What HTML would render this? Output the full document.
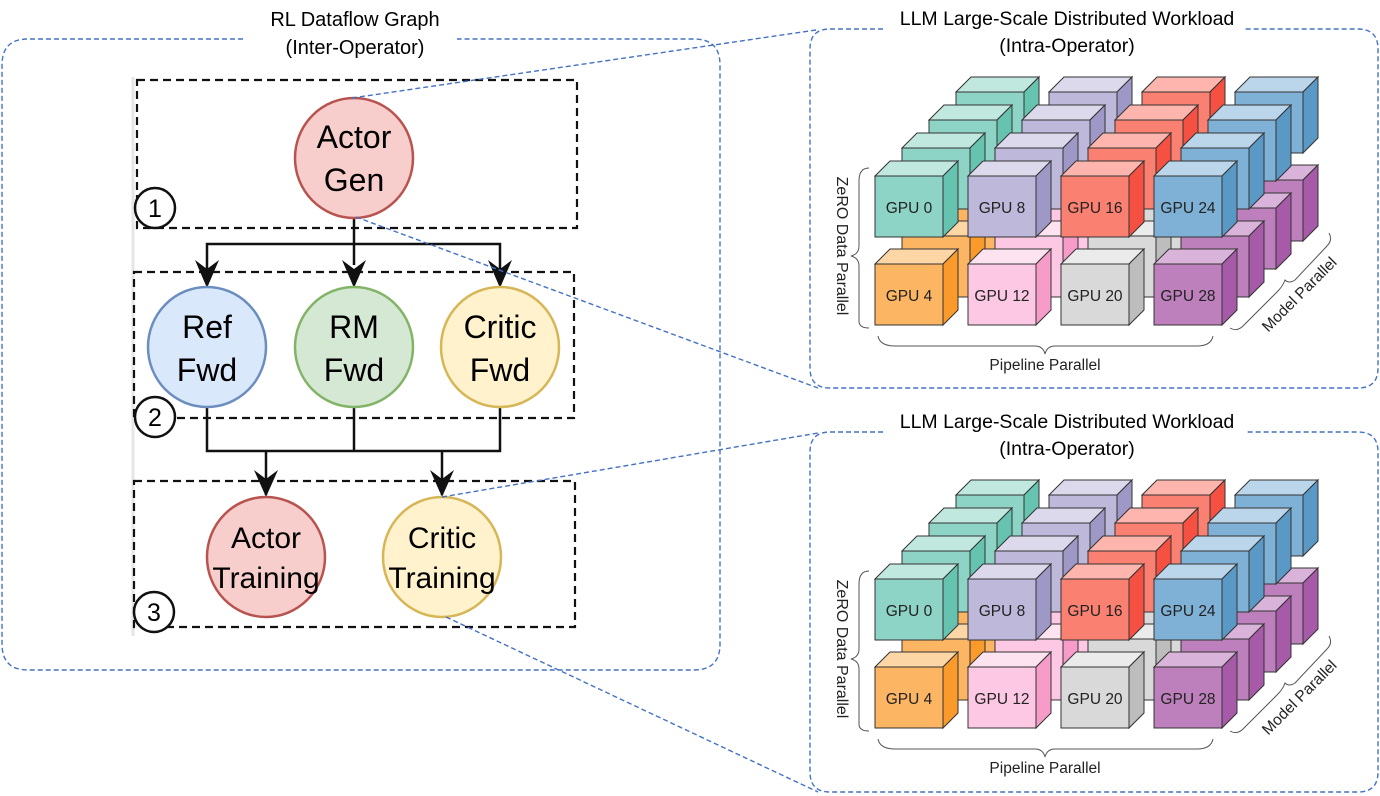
<!DOCTYPE html>
<html><head><meta charset="utf-8"><style>
html,body{margin:0;padding:0;background:#fff;}
svg{display:block;}
.t{font-family:"Liberation Sans",sans-serif;}
.g{font-family:"Liberation Sans",sans-serif;font-size:15.5px;fill:#222;}
</style></head><body>
<svg width="1380" height="796" viewBox="0 0 1380 796" xmlns="http://www.w3.org/2000/svg">
<defs>
<g id="c0"><rect x="0" y="0" width="68" height="61" fill="#8ED4C6" stroke="#333"/><polygon points="0,0 15,-15 83,-15 68,0" fill="#C0E8DF" stroke="#333"/><polygon points="68,0 83,-15 83,46 68,61" fill="#65C3B0" stroke="#333"/></g>
<g id="c1"><rect x="0" y="0" width="68" height="61" fill="#BEB8DA" stroke="#333"/><polygon points="0,0 15,-15 83,-15 68,0" fill="#DCD9ED" stroke="#333"/><polygon points="68,0 83,-15 83,46 68,61" fill="#9E98C6" stroke="#333"/></g>
<g id="c2"><rect x="0" y="0" width="68" height="61" fill="#FA8072" stroke="#333"/><polygon points="0,0 15,-15 83,-15 68,0" fill="#FDB5AD" stroke="#333"/><polygon points="68,0 83,-15 83,46 68,61" fill="#F65042" stroke="#333"/></g>
<g id="c3"><rect x="0" y="0" width="68" height="61" fill="#7FB0D5" stroke="#333"/><polygon points="0,0 15,-15 83,-15 68,0" fill="#BBD5EA" stroke="#333"/><polygon points="68,0 83,-15 83,46 68,61" fill="#5A98C6" stroke="#333"/></g>
<g id="d0"><rect x="0" y="0" width="68" height="61" fill="#FBB563" stroke="#333"/><polygon points="0,0 15,-15 83,-15 68,0" fill="#FDD6A6" stroke="#333"/><polygon points="68,0 83,-15 83,46 68,61" fill="#F99A2B" stroke="#333"/></g>
<g id="d1"><rect x="0" y="0" width="68" height="61" fill="#FCC8E3" stroke="#333"/><polygon points="0,0 15,-15 83,-15 68,0" fill="#FDE3F0" stroke="#333"/><polygon points="68,0 83,-15 83,46 68,61" fill="#F79CC8" stroke="#333"/></g>
<g id="d2"><rect x="0" y="0" width="68" height="61" fill="#D9D9D9" stroke="#333"/><polygon points="0,0 15,-15 83,-15 68,0" fill="#EBEBEB" stroke="#333"/><polygon points="68,0 83,-15 83,46 68,61" fill="#BDBDBD" stroke="#333"/></g>
<g id="d3"><rect x="0" y="0" width="68" height="61" fill="#BD80BD" stroke="#333"/><polygon points="0,0 15,-15 83,-15 68,0" fill="#D9B3D9" stroke="#333"/><polygon points="68,0 83,-15 83,46 68,61" fill="#A65AA8" stroke="#333"/></g>
<g id="grid">
<use href="#d0" x="81" y="4"/><use href="#d1" x="174" y="4"/><use href="#d2" x="267" y="4"/><use href="#d3" x="360" y="4"/>
<use href="#c0" x="81" y="-84"/><use href="#c1" x="174" y="-84"/><use href="#c2" x="267" y="-84"/><use href="#c3" x="360" y="-84"/>
<use href="#d0" x="54" y="32"/><use href="#d1" x="147" y="32"/><use href="#d2" x="240" y="32"/><use href="#d3" x="333" y="32"/>
<use href="#c0" x="54" y="-56"/><use href="#c1" x="147" y="-56"/><use href="#c2" x="240" y="-56"/><use href="#c3" x="333" y="-56"/>
<use href="#d0" x="27" y="60"/><use href="#d1" x="120" y="60"/><use href="#d2" x="213" y="60"/><use href="#d3" x="306" y="60"/>
<use href="#c0" x="27" y="-28"/><use href="#c1" x="120" y="-28"/><use href="#c2" x="213" y="-28"/><use href="#c3" x="306" y="-28"/>
<use href="#c0" x="0" y="0"/><use href="#c1" x="93" y="0"/><use href="#c2" x="186" y="0"/><use href="#c3" x="279" y="0"/>
<use href="#d0" x="0" y="88"/><use href="#d1" x="93" y="88"/><use href="#d2" x="186" y="88"/><use href="#d3" x="279" y="88"/>
<path d="M-6,-8 Q-16,-8 -16,5 L-16,70 Q-16,78 -24,80 Q-16,82 -16,90 L-16,145 Q-16,152 -6,152" fill="none" stroke="#555"/>
<path d="M3,160 Q5,170 20,170 L160,170 Q168,170 170,178 Q172,170 180,170 L322,170 Q336,170 338,160" fill="none" stroke="#555"/>
<path d="M355,152 Q362,156 368,150 L402,116 Q408,110 410,104 Q414,108 420,104 L452,70 Q458,64 454,57" fill="none" stroke="#555"/>
</g>
</defs>

<path d="M243,39 L28,39 Q2,39 2,65 L2,644 Q2,670 28,670 L694,670 Q720,670 720,644 L720,65 Q720,39 694,39 L457,39" fill="none" stroke="#4472C4" stroke-width="1.4" stroke-dasharray="5,3"/>
<text class="t" x="355" y="26" font-size="20" text-anchor="middle">RL Dataflow Graph</text>
<text class="t" x="355" y="54" font-size="20" text-anchor="middle">(Inter-Operator)</text>

<line x1="133" y1="77" x2="133" y2="636" stroke="#e6e6e6" stroke-width="3"/>
<rect x="137" y="80" width="440" height="148" fill="none" stroke="#111" stroke-width="2.2" stroke-dasharray="8,5"/>
<rect x="134" y="272" width="440" height="146" fill="none" stroke="#111" stroke-width="2.2" stroke-dasharray="8,5"/>
<rect x="134" y="481" width="441" height="146" fill="none" stroke="#111" stroke-width="2.2" stroke-dasharray="8,5"/>

<g stroke="#111" stroke-width="2.5" fill="none">
<path d="M354,218 L354,265"/>
<path d="M207,285 L207,244 L500,244 L500,285"/>
<path d="M207,407 L207,451 L500,451 L500,407"/>
<path d="M354,407 L354,451"/>
<path d="M266,451 L266,495"/>
<path d="M442,451 L442,495"/>
</g>
<g fill="#111">
<polygon points="195,260 207,269 219,260 207,288"/>
<polygon points="342,260 354,269 366,260 354,288"/>
<polygon points="488,260 500,269 512,260 500,288"/>
<polygon points="254,470 266,479 278,470 266,497"/>
<polygon points="430,470 442,479 454,470 442,497"/>
</g>

<g stroke-width="2.5">
<ellipse cx="354" cy="158" rx="59" ry="60" fill="#F8CECC" stroke="#B85450"/>
<ellipse cx="207" cy="347" rx="59" ry="60" fill="#DAE8FC" stroke="#6C8EBF"/>
<ellipse cx="354" cy="347" rx="59" ry="60" fill="#D5E8D4" stroke="#82B366"/>
<ellipse cx="500" cy="347" rx="59" ry="60" fill="#FFF2CC" stroke="#D6B656"/>
<ellipse cx="266" cy="557" rx="59" ry="60" fill="#F8CECC" stroke="#B85450"/>
<ellipse cx="442" cy="557" rx="59" ry="60" fill="#FFF2CC" stroke="#D6B656"/>
</g>
<g class="t" font-size="32" text-anchor="middle" fill="#000">
<text x="354" y="148">Actor</text><text x="354" y="191">Gen</text>
<text x="207" y="338">Ref</text><text x="207" y="381">Fwd</text>
<text x="354" y="338">RM</text><text x="354" y="381">Fwd</text>
<text x="500" y="338">Critic</text><text x="500" y="381">Fwd</text>
<text x="266" y="548" font-size="30">Actor</text><text x="266" y="588" font-size="30">Training</text>
<text x="442" y="548" font-size="30">Critic</text><text x="442" y="588" font-size="30">Training</text>
</g>
<g fill="#fff" stroke="#111" stroke-width="2.5">
<circle cx="155" cy="208" r="20"/><circle cx="155" cy="417" r="20"/><circle cx="154" cy="612" r="20"/>
</g>
<g class="t" font-size="25" text-anchor="middle">
<text x="155" y="217">1</text><text x="155" y="426">2</text><text x="154" y="621">3</text>
</g>

<g stroke="#4472C4" stroke-width="1.4" stroke-dasharray="5,3" fill="none">
<line x1="352" y1="98" x2="816" y2="30"/>
<line x1="356" y1="217" x2="818" y2="388"/>
<line x1="442" y1="497" x2="818" y2="433"/>
<line x1="446" y1="617" x2="818" y2="792"/>
</g>

<path d="M883,29 L830,29 Q810,29 810,49 L810,368 Q810,388 830,388 L1358,388 Q1378,388 1378,368 L1378,49 Q1378,29 1358,29 L1245,29" fill="none" stroke="#4472C4" stroke-width="1.4" stroke-dasharray="5,3"/>
<text class="t" x="1067" y="25" font-size="19.5" text-anchor="middle">LLM Large-Scale Distributed Workload</text>
<text class="t" x="1067" y="52" font-size="19.5" text-anchor="middle">(Intra-Operator)</text>

<path d="M883,432 L830,432 Q810,432 810,452 L810,772 Q810,792 830,792 L1358,792 Q1378,792 1378,772 L1378,452 Q1378,432 1358,432 L1245,432" fill="none" stroke="#4472C4" stroke-width="1.4" stroke-dasharray="5,3"/>
<text class="t" x="1067" y="428" font-size="19.5" text-anchor="middle">LLM Large-Scale Distributed Workload</text>
<text class="t" x="1067" y="455" font-size="19.5" text-anchor="middle">(Intra-Operator)</text>

<g transform="translate(875,176)">
<use href="#grid"/>
<g class="g" text-anchor="middle">
<text x="34" y="37">GPU 0</text><text x="127" y="37">GPU 8</text><text x="220" y="37">GPU 16</text><text x="313" y="37">GPU 24</text>
<text x="34" y="125">GPU 4</text><text x="127" y="125">GPU 12</text><text x="220" y="125">GPU 20</text><text x="313" y="125">GPU 28</text>
<text x="170" y="194" font-size="15.5">Pipeline Parallel</text>
<text transform="translate(-38,70) rotate(90)" font-size="16">ZeRO Data Parallel</text>
<text transform="translate(428,122) rotate(-45)" font-size="15.5">Model Parallel</text>
</g>
</g>
<g transform="translate(875,579)">
<use href="#grid"/>
<g class="g" text-anchor="middle">
<text x="34" y="37">GPU 0</text><text x="127" y="37">GPU 8</text><text x="220" y="37">GPU 16</text><text x="313" y="37">GPU 24</text>
<text x="34" y="125">GPU 4</text><text x="127" y="125">GPU 12</text><text x="220" y="125">GPU 20</text><text x="313" y="125">GPU 28</text>
<text x="170" y="194" font-size="15.5">Pipeline Parallel</text>
<text transform="translate(-38,70) rotate(90)" font-size="16">ZeRO Data Parallel</text>
<text transform="translate(428,122) rotate(-45)" font-size="15.5">Model Parallel</text>
</g>
</g>
</svg>
</body></html>
